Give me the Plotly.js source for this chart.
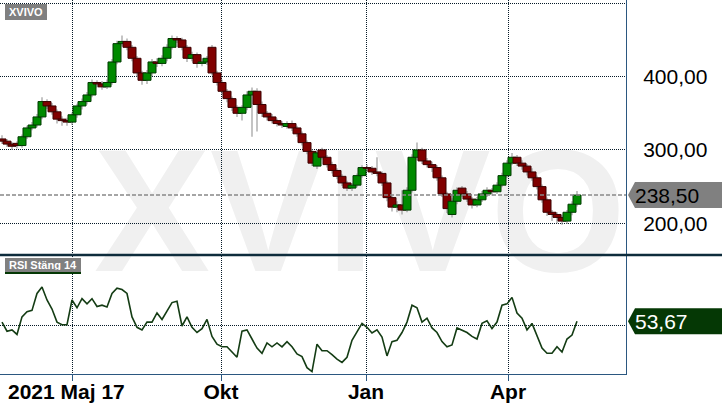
<!DOCTYPE html>
<html><head><meta charset="utf-8">
<script src="https://cdn.plot.ly/plotly-3.0.1.min.js"></script>
<style>html,body{margin:0;padding:0;background:#fff}#chart{width:722px;height:410px}</style>
</head><body><div id="chart"></div>
<script>
// ---- data ----
const ticker = 'XVIVO';
const rsiName = 'RSI Stäng 14';
const startLabel = '2021 Maj 17';
const tickPos = [14, 43.8, 72.8, 101.2];          // candle-index positions of month ticks
const tickLabels = ['', 'Okt', 'Jan', 'Apr'];
const priceTicks = [200, 300, 400, 500];
const rsiTicks = [50];

const open = [315,312,308,309,306,318,330,334,345,366,
  360,352,342,340,338,348,360,366,375,392,
  390,386,392,420,445,448,440,425,405,395,
  405,420,418,425,440,452,450,440,425,430,
  418,420,440,405,392,380,370,358,350,358,
  375,380,362,350,345,340,336,332,336,330,
  322,310,298,278,300,290,280,272,264,255,
  248,252,265,276,275,270,268,255,235,222,
  225,218,245,290,300,285,280,276,262,240,
  212,230,248,240,233,225,232,240,245,243,
  252,265,282,290,282,278,270,262,250,232,
  215,212,208,203,215,226];
const close = [312,308,305,306,318,330,334,345,366,360,
  352,342,340,338,348,360,366,375,392,390,
  386,392,420,445,448,440,425,405,395,405,
  420,418,425,440,452,450,440,425,430,418,
  420,425,405,392,380,370,358,350,358,375,
  380,362,350,345,340,336,334,336,330,322,
  310,298,282,296,290,280,272,264,255,248,
  252,265,276,275,270,268,255,235,222,225,
  218,245,290,300,285,280,276,262,240,220,
  230,245,240,233,225,232,240,245,243,252,
  265,282,290,282,278,270,262,250,232,215,
  212,208,203,215,226,238.5];
const high = [320,315,311,312,321,333,338,349,372,369,
  364,355,346,344,351,363,370,379,396,395,
  394,396,424,449,456,452,443,428,408,409,
  424,425,429,444,456,455,453,443,434,433,
  425,428,443,408,396,383,373,361,361,380,
  385,384,366,353,349,343,339,339,340,333,
  325,313,301,300,303,293,284,275,267,258,
  255,268,279,280,278,290,271,258,238,230,
  245,249,294,310,303,289,284,279,265,243,
  234,249,251,244,236,236,244,249,248,256,
  269,286,296,293,286,281,275,265,253,235,
  218,215,212,218,230,244];
const low = [308,304,300,302,303,315,327,331,342,356,
  348,336,333,333,334,344,355,362,372,385,
  382,383,389,417,441,436,421,400,389,390,
  401,413,414,421,437,446,436,420,421,412,
  414,416,402,388,376,365,353,345,340,354,
  318,325,345,340,336,332,330,329,326,318,
  306,294,278,274,287,276,268,260,251,244,
  244,249,262,271,266,264,251,230,216,215,
  212,215,242,286,281,276,270,258,236,214,
  208,226,236,229,220,222,229,236,238,240,
  249,262,279,278,273,265,258,246,228,210,
  203,200,198,199,211,223];
const rsi = [53,46,47,43.5,57,61,62,75,80,70,
  63,53,51,51,70,64,71,67,71,65,
  66,64.6,75,79,78,75,57,49,47,53,
  53,60,55,62,68,69,50,57,49,45,
  48,55,42,36,34,34,30,26,46,47,
  40,33,29,37,34,37,34,38,34,28.5,
  26.5,18,15,36,31,31,28,24.5,22,26,
  39,46,52,49,44.6,47,41.5,27,38,39,
  45,53,66,64,53,56,48.5,45,38,34,
  35.4,48.5,47,45,42,40,52,54,48,53,
  66,67,72,60,56,47,52,42,33,29,
  29,34,30,40,43,53.67];

// ---- layout constants ----
const plotW = 626, plotH = 374;
const mainBotPx = 254, rsiTopPx = 256;
const priceRange = [158.1, 504.5];
const rsiRange = [13.1, 103.8];
const xRange = [-0.4, 124.8];
const gridCol = '#061a28', axisCol = '#2b5780';
const upFill = '#008a00', upLine = '#003a00', dnFill = '#800000', dnLine = '#3a0000';

const px2py = p => (plotH - p) / plotH;
const px2x = p => p / plotW;
const mainDom = [px2py(mainBotPx), 1];
const rsiDom = [0, px2py(rsiTopPx)];
const valToPy = (v, r, d) => d[0] + (v - r[0]) / (r[1] - r[0]) * (d[1] - d[0]);
const fmt = v => v.toFixed(2).replace('.', ',');

const idx = close.map((_, i) => i);
const up = close.map((c, i) => c >= open[i]);
const bodyBase = close.map((c, i) => Math.min(c, open[i]));
const bodyH = close.map((c, i) => Math.max(Math.abs(c - open[i]), 0.8));
const wickH = high.map((h, i) => h - low[i]);

const lastP = close[close.length - 1];
const lastR = rsi[rsi.length - 1];

const traces = [
  {type: 'bar', x: idx, base: low, y: wickH, width: 0.2, xaxis: 'x', yaxis: 'y',
   marker: {color: '#8a8a8a', line: {width: 0}}, hoverinfo: 'skip'},
  {type: 'bar', x: idx, base: bodyBase, y: bodyH, width: 1.6, xaxis: 'x', yaxis: 'y',
   marker: {color: up.map(u => u ? upFill : dnFill), line: {color: up.map(u => u ? upLine : dnLine), width: 1}},
   hoverinfo: 'skip'},
  {type: 'scatter', mode: 'lines', x: idx, y: rsi, xaxis: 'x2', yaxis: 'y2',
   line: {color: '#143c14', width: 1.6}, hoverinfo: 'skip'}
];

function tagPath(yPx, hh) {
  const tip = px2x(628), l = px2x(635), r = px2x(722);
  const yc = px2py(yPx), yt = px2py(yPx - hh), yb = px2py(yPx + hh);
  return `M ${tip} ${yc} L ${l} ${yt} L ${r} ${yt} L ${r} ${yb} L ${l} ${yb} Z`;
}
const pPy = valToPy(lastP, priceRange, mainDom);
const rPy = valToPy(lastR, rsiRange, rsiDom);
const pPx = plotH - pPy * plotH, rPx = plotH - rPy * plotH;

const font = 'Liberation Sans, Arial, sans-serif';
const layout = {
  width: 722, height: 410,
  margin: {l: 0, r: 722 - plotW, t: 0, b: 410 - plotH, pad: 0},
  paper_bgcolor: '#fff', plot_bgcolor: 'rgba(0,0,0,0)',
  showlegend: false, barmode: 'overlay', hovermode: false,
  font: {family: font, color: '#000'},
  xaxis: {anchor: 'y', range: xRange, tickvals: tickPos, showticklabels: false, ticks: '',
    showgrid: true, gridcolor: gridCol, griddash: '1px,1px', gridwidth: 1, zeroline: false, showline: false, fixedrange: true},
  xaxis2: {anchor: 'y2', matches: 'x', range: xRange, tickvals: tickPos, ticktext: tickLabels,
    ticks: 'outside', ticklen: 6, tickcolor: axisCol, tickwidth: 1, ticklabelstandoff: -7,
    tickfont: {size: 21, weight: 'bold', color: '#000', family: font},
    showgrid: true, gridcolor: gridCol, griddash: '1px,1px', gridwidth: 1, zeroline: false,
    showline: true, linecolor: axisCol, linewidth: 1, fixedrange: true},
  yaxis: {domain: mainDom, range: priceRange, side: 'right', anchor: 'x',
    tickvals: priceTicks, ticktext: priceTicks.map(v => v >= 500 ? '' : fmt(v)),
    ticks: '', ticklabelstandoff: 12, tickfont: {size: 21, color: '#000', family: font},
    showgrid: true, gridcolor: gridCol, griddash: '1px,1px', gridwidth: 1, zeroline: false,
    showline: true, linecolor: axisCol, linewidth: 1, fixedrange: true},
  yaxis2: {domain: rsiDom, range: rsiRange, side: 'right', anchor: 'x2',
    tickvals: rsiTicks, showticklabels: false, ticks: '',
    showgrid: true, gridcolor: gridCol, griddash: '1px,1px', gridwidth: 1, zeroline: false,
    showline: true, linecolor: axisCol, linewidth: 1, fixedrange: true},
  shapes: [
    {type: 'rect', xref: 'paper', yref: 'paper', layer: 'below',
     x0: px2x(95), x1: px2x(625), y0: px2py(258), y1: px2py(130),
     line: {width: 0}, fillcolor: 'rgba(0,0,0,0)',
     label: {text: ticker, textposition: 'middle center',
       font: {family: font, size: 174, color: '#f0f0f0', weight: 'bold'}}},
    {type: 'line', xref: 'paper', yref: 'paper', x0: 0, x1: 1, y0: pPy, y1: pPy,
     line: {color: '#888888', width: 1.5, dash: '4px,2px'}},
    {type: 'line', xref: 'paper', yref: 'paper', x0: 0, x1: px2x(722), y0: px2py(255), y1: px2py(255),
     line: {color: '#0e2c3c', width: 2.5}},
    {type: 'path', xref: 'paper', yref: 'paper', path: tagPath(pPx, 13), fillcolor: '#808080', line: {width: 0}},
    {type: 'path', xref: 'paper', yref: 'paper', path: tagPath(rPx, 13), fillcolor: '#053805', line: {width: 0}},
    {type: 'rect', xref: 'paper', yref: 'paper', x0: px2x(5), x1: px2x(81), y0: px2py(274), y1: px2py(272),
     fillcolor: '#053805', line: {width: 0}}
  ],
  annotations: [
    {xref: 'paper', yref: 'paper', x: px2x(633), y: pPy, xanchor: 'left', yanchor: 'middle',
     text: fmt(lastP), showarrow: false, font: {size: 21, color: '#000', family: font}},
    {xref: 'paper', yref: 'paper', x: px2x(633), y: rPy, xanchor: 'left', yanchor: 'middle',
     text: fmt(lastR), showarrow: false, font: {size: 21, color: '#fff', family: font}},
    {xref: 'paper', yref: 'paper', x: px2x(5), y: px2py(4), xanchor: 'left', yanchor: 'top',
     text: ticker, showarrow: false, bgcolor: '#808080', width: 38, height: 12, borderpad: 2, borderwidth: 0,
     font: {size: 11, color: '#fff', family: font, weight: 'bold'}},
    {xref: 'paper', yref: 'paper', x: px2x(5), y: px2py(258), xanchor: 'left', yanchor: 'top',
     text: rsiName, showarrow: false, bgcolor: '#808080', width: 72, height: 10, borderpad: 2, borderwidth: 0,
     font: {size: 11, color: '#fff', family: font, weight: 'bold'}},
    {xref: 'paper', yref: 'paper', x: px2x(6), y: px2py(391), xanchor: 'left', yanchor: 'middle',
     text: startLabel, showarrow: false, font: {size: 21, color: '#000', family: font, weight: 'bold'}}
  ]
};

Plotly.newPlot('chart', traces, layout, {staticPlot: true, displayModeBar: false});
</script></body></html>
